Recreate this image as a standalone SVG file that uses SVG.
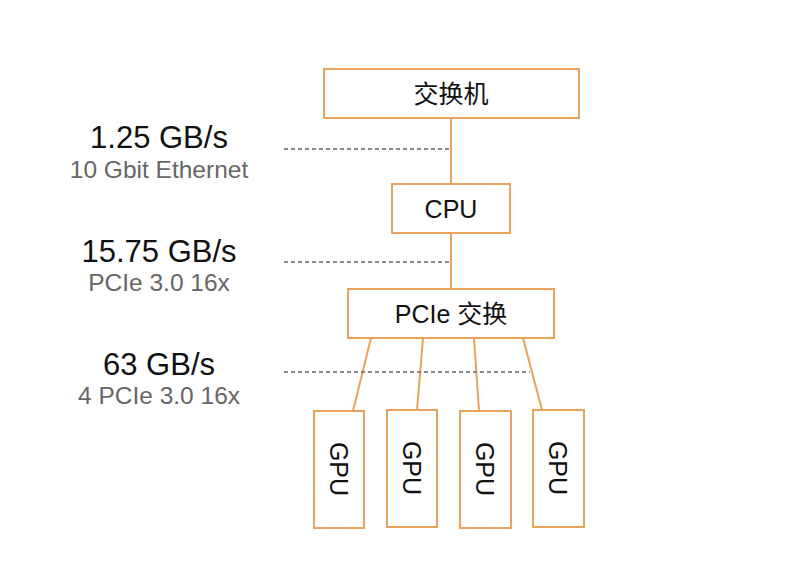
<svg xmlns="http://www.w3.org/2000/svg" width="810" height="583" viewBox="0 0 810 583">
<style>
.box{fill:#fff;stroke:#E9A35C;stroke-width:2}
.lbl{font-family:"Liberation Sans","Noto Sans CJK SC",sans-serif;font-size:25px;fill:#111;text-anchor:middle}
.big{font-family:"Liberation Sans",sans-serif;font-size:31px;fill:#111;text-anchor:middle}
.sub{font-family:"Liberation Sans",sans-serif;font-size:24.5px;fill:#666;text-anchor:middle}
.con{stroke:#E9A35C;stroke-width:2;fill:none}
.dot{stroke:#666;stroke-width:1.6;stroke-dasharray:4 3;fill:none}
</style>
<rect width="810" height="583" fill="#fff"/>
<g id="rates">
<text class="big" x="159" y="148">1.25 GB/s</text>
<text class="sub" x="159" y="178">10 Gbit Ethernet</text>
<text class="big" x="159" y="262">15.75 GB/s</text>
<text class="sub" x="159" y="291">PCIe 3.0 16x</text>
<text class="big" x="159" y="375">63 GB/s</text>
<text class="sub" x="159" y="404">4 PCIe 3.0 16x</text>
</g>
<g id="connectors">
<line class="con" x1="451" y1="118" x2="451" y2="184"/>
<line class="con" x1="451" y1="233" x2="451" y2="289"/>
<line class="con" x1="371" y1="338" x2="353" y2="411"/>
<line class="con" x1="423" y1="338" x2="417" y2="410"/>
<line class="con" x1="474" y1="338" x2="479" y2="411"/>
<line class="con" x1="523" y1="338" x2="542" y2="410"/>
<line class="dot" x1="284" y1="149" x2="451" y2="149"/>
<line class="dot" x1="284" y1="262" x2="451" y2="262"/>
<line class="dot" x1="284" y1="372" x2="530" y2="372"/>
</g>
<g id="switch">
<rect class="box" x="324" y="69" width="255" height="49"/>
<text class="lbl" x="451" y="103">交换机</text>
</g>
<g id="cpu">
<rect class="box" x="392" y="184" width="118" height="49"/>
<text class="lbl" x="451" y="218">CPU</text>
</g>
<g id="pcie">
<rect class="box" x="348" y="289" width="206" height="49"/>
<text class="lbl" x="451" y="323">PCIe 交换</text>
</g>
<g id="gpu1">
<rect class="box" x="314" y="411" width="50" height="117"/>
<text class="lbl" transform="translate(339 469) rotate(90)" y="9">GPU</text>
</g>
<g id="gpu2">
<rect class="box" x="387" y="410" width="50" height="117"/>
<text class="lbl" transform="translate(412 468) rotate(90)" y="9">GPU</text>
</g>
<g id="gpu3">
<rect class="box" x="460" y="411" width="51" height="117"/>
<text class="lbl" transform="translate(485 469) rotate(90)" y="9">GPU</text>
</g>
<g id="gpu4">
<rect class="box" x="533" y="410" width="51" height="117"/>
<text class="lbl" transform="translate(558 468) rotate(90)" y="9">GPU</text>
</g>
</svg>
